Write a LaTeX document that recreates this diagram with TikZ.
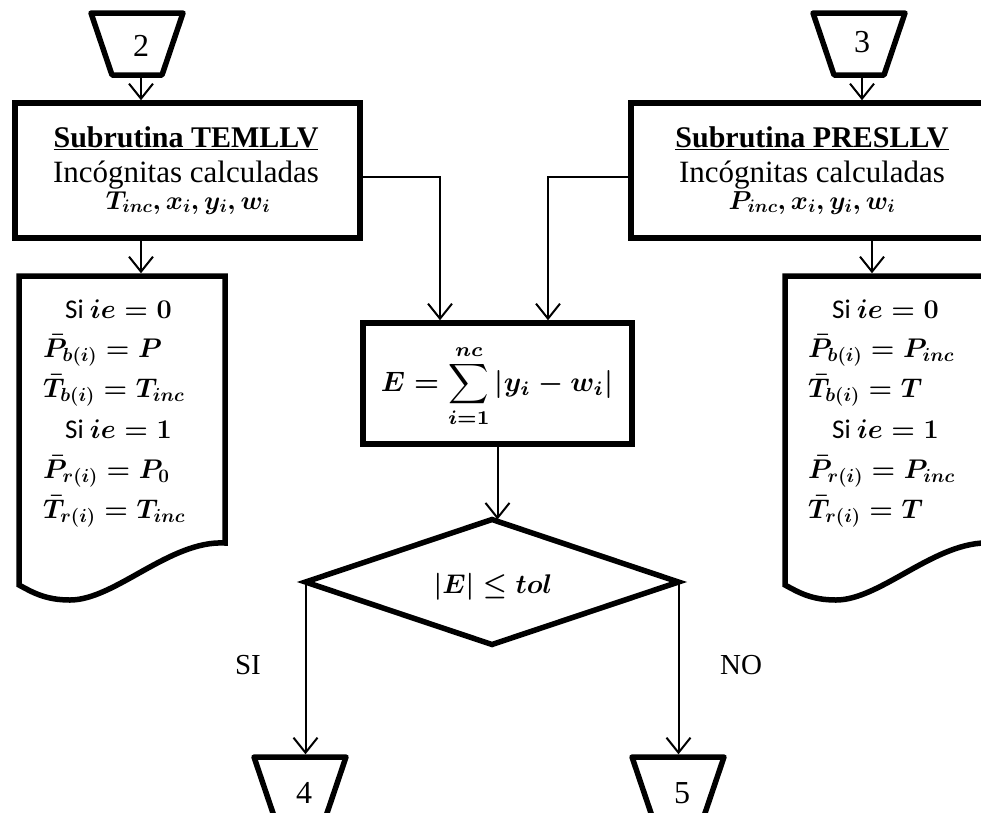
\RequirePackage{fix-cm}
\documentclass[tikz,border=0pt]{standalone}
\usepackage{fontspec}
\setmainfont{Liberation Serif}
\newfontfamily\sifont{Carlito}
\usetikzlibrary{arrows.meta,shapes.geometric,calc}

% inverted trapezoid (off-page connector) drawn on a node's frame
\newcommand\trapshape[1]{%
  \draw[heavy,line join=round] (#1.north west) -- (#1.north east)
    -- ($(#1.south east)+(-21,0)$) -- ($(#1.south west)+(21,0)$) -- cycle;}
% document symbol with a wavy lower edge
\newcommand\docshape[1]{%
  \draw[heavy,line join=miter] (#1.north west) -- (#1.north east) -- (#1.south east)
    .. controls ($(#1.south east)+(-55,-3)$) and ($(#1.south east)+(-110,57)$)
    .. ($(#1.south east)+(-155,57)$)
    .. controls ($(#1.south east)+(-180,57)$) and ($(#1.south east)+(-193,49)$)
    .. ($(#1.south west)+(0,42)$) -- cycle;}

\begin{document}
\begin{tikzpicture}[x=1pt,y=-1pt,
  heavy/.style={draw,line width=5.5pt},
  flow/.style={line width=2pt,line join=miter,-{Straight Barb[length=15pt,width=24pt]}},
  procbox/.style={heavy,rectangle,inner sep=0pt},
  conn/.style={rectangle,inner sep=0pt,outer sep=0pt,minimum width=92,minimum height=62},
  docbody/.style={rectangle,inner sep=0pt,outer sep=0pt,minimum width=206,minimum height=267},
  headtxt/.style={font=\fontsize{30}{36}\selectfont\bfseries,anchor=base,inner sep=0pt},
  bodytxt/.style={font=\fontsize{31}{37}\selectfont,anchor=base,inner sep=0pt},
  mathtxt/.style={font=\fontsize{26}{32}\selectfont\boldmath,anchor=base,inner sep=0pt},
  doctxt/.style={font=\fontsize{27}{33}\selectfont\boldmath,anchor=base west,inner sep=0pt},
  digit/.style={font=\fontsize{32}{38}\selectfont,inner sep=0pt},
  lbl/.style={font=\fontsize{29}{35}\selectfont,inner sep=0pt},
  testtxt/.style={font=\fontsize{27}{33}\selectfont\boldmath,inner sep=0pt},
]
\useasboundingbox (0,0) rectangle (981,812);
\clip (0,0) rectangle (981,812);
\fill[white] (0,0) rectangle (981,812);

% ---- entry connectors ----
\node[conn] (c2) at (137,44) {};
\trapshape{c2}
\node[digit] (c2n) at (141,46) {2};
\node[conn] (c3) at (859,44) {};
\trapshape{c3}
\node[digit] (c3n) at (862,42) {3};

% ---- subroutine boxes ----
\node[procbox,minimum width=345,minimum height=135] (temllv) at (187.5,170.5) {};
\node[headtxt] (temllvA) at (186,147) {\underline{Subrutina TEMLLV}};
\node[bodytxt] (temllvB) at (186,182) {Incógnitas calculadas};
\node[mathtxt] (temllvC) at (188,209) {$T_{inc}, x_i, y_i, w_i$};

\node[procbox,minimum width=362,minimum height=135] (presllv) at (812,170.5) {};
\node[headtxt] (presllvA) at (812,147) {\underline{Subrutina PRESLLV}};
\node[bodytxt] (presllvB) at (812,182) {Incógnitas calculadas};
\node[mathtxt] (presllvC) at (812,209) {$P_{inc}, x_i, y_i, w_i$};

% ---- result documents ----
\node[docbody] (ldoc) at (122,409.5) {};
\docshape{ldoc}
\node[doctxt] (l1) at (65,318) {\sifont Si $ie=0$};
\node[doctxt] (l2) at (43,357) {$\bar{P}_{b(i)}=P$};
\node[doctxt] (l3) at (43,397) {$\bar{T}_{b(i)}=T_{inc}$};
\node[doctxt] (l4) at (65,438) {\sifont Si $ie=1$};
\node[doctxt] (l5) at (43,478) {$\bar{P}_{r(i)}=P_0$};
\node[doctxt] (l6) at (43,518) {$\bar{T}_{r(i)}=T_{inc}$};

\node[docbody] (rdoc) at (888,409.5) {};
\docshape{rdoc}
\node[doctxt] (r1) at (832,318) {\sifont Si $ie=0$};
\node[doctxt] (r2) at (808,357) {$\bar{P}_{b(i)}=P_{inc}$};
\node[doctxt] (r3) at (808,397) {$\bar{T}_{b(i)}=T$};
\node[doctxt] (r4) at (832,438) {\sifont Si $ie=1$};
\node[doctxt] (r5) at (808,478) {$\bar{P}_{r(i)}=P_{inc}$};
\node[doctxt] (r6) at (808,518) {$\bar{T}_{r(i)}=T$};

% ---- error sum and test ----
\node[procbox,minimum width=269,minimum height=121] (ebox) at (497.5,383.5) {};
\node[inner sep=0pt] (eform) at (497,386)
  {\scalebox{2.8}{\boldmath$\displaystyle E=\sum_{i=1}^{nc}|y_i-w_i|$}};

\node[heavy,diamond,aspect=3,minimum width=373,minimum height=125,inner sep=0pt,outer sep=0pt] (dec) at (492,582) {};
\node[testtxt] (dect) at (493,587) {$|E|\le tol$};

% ---- exit connectors ----
\node[conn] (c4) at (300,788) {};
\trapshape{c4}
\node[digit] (c4n) at (304,793) {4};
\node[conn] (c5) at (678,788) {};
\trapshape{c5}
\node[digit] (c5n) at (682,793) {5};

\node[lbl] (si) at (248,665) {SI};
\node[lbl] (no) at (741,665) {NO};

% ---- connectors ----
\coordinate (a2) at (141,0);
\coordinate (a3) at (862,0);
\coordinate (a3b) at (872,0);
\coordinate (jl) at (440,177);
\coordinate (jr) at (548,177);

\draw[flow] (c2.south -| a2) -- (temllv.north -| a2);
\draw[flow] (temllv.south -| a2) -- ([yshift=2.75pt]ldoc.north -| a2);
\draw[flow] (c3.south -| a3) -- (presllv.north -| a3);
\draw[flow] (presllv.south -| a3b) -- ([yshift=2.75pt]rdoc.north -| a3b);
\draw[flow] (temllv.east |- jl) -- (jl) -- (jl |- ebox.north);
\draw[flow] (presllv.west |- jr) -- (jr) -- (jr |- ebox.north);
\draw[flow] (ebox.south) -- (ebox.south |- dec.north);
\draw[flow] (dec.west) -- ([yshift=2.75pt]dec.west |- c4.north);
\draw[flow] (dec.east) -- ([yshift=2.75pt]dec.east |- c5.north);
\end{tikzpicture}
\end{document}
